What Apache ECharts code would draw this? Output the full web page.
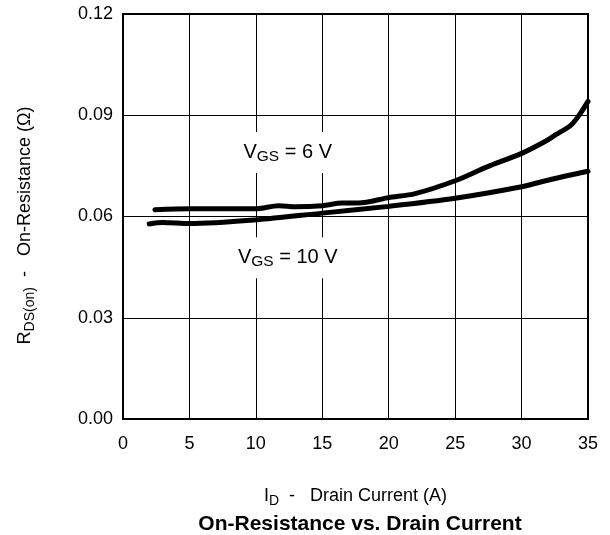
<!DOCTYPE html>
<html>
<head>
<meta charset="utf-8">
<script src="https://cdn.jsdelivr.net/npm/echarts@6/dist/echarts.min.js"></script>
<style>html,body{margin:0;padding:0;background:#fff;}#c{width:610px;height:535px;}</style>
</head>
<body>
<div id="c"></div>
<script>
// Drain current (A) and on-resistance (Ohm)
var vgs6_x = [2.4, 5, 10, 11.7, 13, 15, 16.5, 17.7, 20, 22, 25, 27.4, 30, 31.8, 32.6, 33.7, 34.4, 35];
var vgs6_y = [0.0620, 0.0623, 0.0623, 0.0632, 0.0629, 0.0632, 0.0640, 0.0640, 0.0656, 0.0668, 0.0706, 0.0747, 0.0787, 0.0823, 0.0843, 0.0870, 0.0904, 0.0941];
var vgs10_x = [1.97, 3, 5, 10, 15, 20, 25, 30, 31.8, 35];
var vgs10_y = [0.0578, 0.0582, 0.0579, 0.0590, 0.0610, 0.0630, 0.0654, 0.0688, 0.0706, 0.0734];
var xTicks = [0, 5, 10, 15, 20, 25, 30, 35];
var yTicks = [0.00, 0.03, 0.06, 0.09, 0.12];

function pairs(xs, ys) { return xs.map(function (x, i) { return [x, ys[i]]; }); }

var FONT = '"Liberation Sans", Arial, Helvetica, sans-serif';
var chart = echarts.init(document.getElementById('c'));
var labelStyle = {
  show: true,
  position: 'inside',
  backgroundColor: '#fff',
  padding: [8, 4, 8, 4],
  color: '#000',
  fontFamily: FONT,
  rich: {
    n: { fontSize: 20, fontFamily: FONT, color: '#000' },
    s: { fontSize: 15.5, fontFamily: FONT, color: '#000', padding: [9, 0, 0, 0] }
  }
};
var nameRich = {
  n: { fontSize: 18, fontFamily: FONT, color: '#000' },
  s: { fontSize: 14, fontFamily: FONT, color: '#000', padding: [9, 0, 0, 0] }
};
chart.setOption({
  animation: false,
  backgroundColor: '#fff',
  title: {
    text: 'On-Resistance vs. Drain Current',
    left: 355, top: 509, textAlign: 'center',
    textStyle: { fontFamily: FONT, fontWeight: 'bold', fontSize: 21, color: '#000' }
  },
  grid: { left: 123, top: 14, right: 22, bottom: 116, show: true, borderColor: '#000', borderWidth: 2, backgroundColor: 'transparent' },
  xAxis: {
    type: 'value', min: xTicks[0], max: xTicks[xTicks.length - 1], interval: 5,
    axisLine: { show: false }, axisTick: { show: false },
    splitLine: { show: true, lineStyle: { color: '#000', width: 1 } },
    axisLabel: { color: '#000', fontSize: 18, fontFamily: FONT, margin: 16 },
    name: '{n|I}{s|D}{n|  -   Drain Current (A)}',
    nameLocation: 'middle', nameGap: 66,
    nameTextStyle: { rich: nameRich }
  },
  yAxis: {
    type: 'value', min: yTicks[0], max: yTicks[yTicks.length - 1], interval: 0.03,
    axisLine: { show: false }, axisTick: { show: false },
    splitLine: { show: true, lineStyle: { color: '#000', width: 1 } },
    axisLabel: { color: '#000', fontSize: 18, fontFamily: FONT, margin: 10, formatter: function (v) { return v.toFixed(2); } },
    name: '{n|R}{s|DS(on)}{n|  -   On-Resistance (Ω)}',
    nameLocation: 'middle', nameGap: 86, nameRotate: 90,
    nameTextStyle: { rich: nameRich, padding: [0, 18, 0, 0] }
  },
  series: [
    {
      type: 'line', data: pairs(vgs6_x, vgs6_y), smooth: 0.3, showSymbol: false,
      lineStyle: { color: '#000', width: 5, cap: 'round' }, z: 3,
      markPoint: {
        symbolSize: 0, silent: true,
        data: [{ coord: [12.4, 0.0790], value: 0, label: Object.assign({}, labelStyle, { formatter: '{n|V}{s|GS}{n| = 6 V}' }) }]
      }
    },
    {
      type: 'line', data: pairs(vgs10_x, vgs10_y), smooth: 0.3, showSymbol: false,
      lineStyle: { color: '#000', width: 5, cap: 'round' }, z: 3,
      markPoint: {
        symbolSize: 0, silent: true,
        data: [{ coord: [12.4, 0.0478], value: 0, label: Object.assign({}, labelStyle, { formatter: '{n|V}{s|GS}{n| = 10 V}' }) }]
      }
    }
  ]
});
</script>
</body>
</html>
